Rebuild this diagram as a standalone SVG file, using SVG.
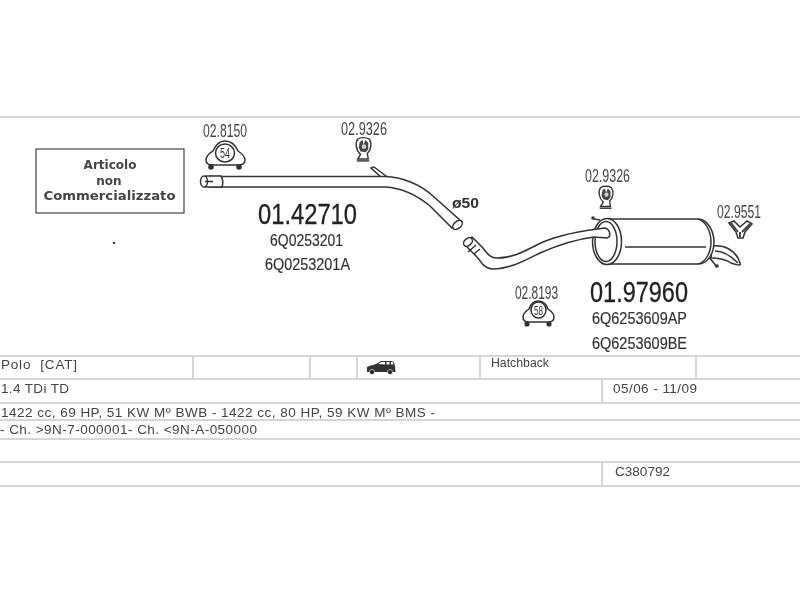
<svg xmlns="http://www.w3.org/2000/svg" width="800" height="600" viewBox="0 0 800 600">
<defs>
<filter id="soft" x="-5%" y="-5%" width="110%" height="110%"><feGaussianBlur stdDeviation="0.35"/></filter>
<symbol id="hanger" viewBox="0 0 20 27" overflow="visible">
<path d="M4 24 L7 19 C2 15 1 7 4 3 C7 1 13 1 16 3 C19 7 18 15 14 18 L15 24 Z" fill="#fff" stroke="#333" stroke-width="1.5"/>
<path d="M6 6 L9 4 L10 9 L12 4 L15 7 L15 14 L12 17 L7 16 L5 12 Z" fill="#444"/>
<circle cx="10.5" cy="11" r="2.4" fill="#ccc"/>
<path d="M3 26 L16 26" stroke="#333" stroke-width="1.5"/>
</symbol>
</defs>
<style>
text{font-family:"Liberation Sans",Arial,sans-serif;fill:#333}
.grid{stroke:#d6d6d6;stroke-width:2;fill:none}
.pipe{fill:#fff;stroke:#333;stroke-width:1.5}
.line{fill:none;stroke:#333;stroke-width:1.5}
.ref{font-size:19px;fill:#444}
.big{font-size:30px;fill:#222;stroke:#222;stroke-width:.3}
.oe{font-size:17px;stroke:#333;stroke-width:.2}
.tb{font-size:13.500px;fill:#444}
.box{font-family:"DejaVu Sans",sans-serif;font-size:12px;font-weight:bold;text-anchor:middle;fill:#444}
</style>
<rect width="800" height="600" fill="#fff"/>
<g id="table">
<path class="grid" d="M0 117H800M0 356H800M0 379H800M0 403H800M0 420H800M0 439H800M0 462H800M0 486H800"/>
<path class="grid" d="M193 356V379M310 356V379M357 356V379M480 356V379M696 356V379M602 379V403M602 462V486"/>
</g>
<g filter="url(#soft)">
<g id="note">
<rect x="36" y="149" width="148" height="64" fill="#fff" stroke="#444" stroke-width="1.2"/>
<text class="box" x="110" y="169">Articolo</text>
<text class="box" x="109" y="185">non</text>
<text class="box" x="109.500" y="200" textLength="132" lengthAdjust="spacingAndGlyphs">Commercializzato</text>
<circle cx="114" cy="243" r="1.2" fill="#333"/>
</g>
<g id="front-pipe">
<path class="pipe" d="M371 168 L374 167 L386 176 L382 178 Z"/>
<path class="pipe" d="M210 176.500 H385 C402 177 420 184 433 196 L462 222 L452 228 L430 206 C418 196 402 188 385 187 H210 Z"/>
<path class="pipe" d="M206 176 H221 Q224 181 222 187 H206 Z"/>
<ellipse class="pipe" cx="204" cy="181.500" rx="3.500" ry="5.500"/>
<path class="line" d="M205 181.500 H213"/>
<ellipse class="pipe" cx="457.500" cy="225" rx="5.500" ry="3.500" transform="rotate(-40 457.500 225)"/>
<text class="big" x="258" y="224" textLength="99" lengthAdjust="spacingAndGlyphs">01.42710</text>
<text class="oe" x="270" y="246" textLength="73" lengthAdjust="spacingAndGlyphs">6Q0253201</text>
<text class="oe" x="265" y="270" textLength="85" lengthAdjust="spacingAndGlyphs">6Q0253201A</text>
<text x="452" y="208" font-size="15" font-weight="bold" textLength="27" lengthAdjust="spacingAndGlyphs">ø50</text>
</g>
<g id="rear-muffler">
<path class="pipe" d="M712 246 C722 245 732 248 738 258 L740 263 C742 266 736 265 731 263 C725 259 718 258 711 258 Z"/>
<path class="line" d="M715 251 C724 251 733 258 738 263"/>
<path class="line" d="M708 256 L717 267"/>
<circle cx="717" cy="266" r="1.800" fill="#333"/>
<path class="pipe" d="M607 219 H698 C708 219 714 232 714 242 C714 253 708 264 698 264 H610 Z"/>
<path class="line" d="M698 219 C706 221 711 232 711 242 C711 252 706 262 698 264"/>
<path class="line" d="M625 247 H706"/>
<ellipse cx="607" cy="241.500" rx="14.500" ry="23" fill="#fff" stroke="#333" stroke-width="1.500"/>
<ellipse class="line" cx="606" cy="241.500" rx="11" ry="20"/>
<path class="line" d="M600 220 L594 219"/>
<circle cx="593" cy="218" r="1.800" fill="#333"/>
<path class="pipe" d="M472 237 L483 248 C488 255 491 258 497 258 C515 258 528 249 543 242 C560 235 578 231 605 228 C611 230 611 237 607 238 L594 237 C578 239 558 245 540 253 C524 261 510 269 492 269 C484 268 481 262 477 257 L465 245 Z"/>
<ellipse class="pipe" cx="468" cy="242" rx="5" ry="3.500" transform="rotate(-40 468 242)"/>
<path class="line" d="M476 245 L468 252 M480 249 L474 254"/>
<text class="big" x="590" y="302" textLength="98" lengthAdjust="spacingAndGlyphs">01.97960</text>
<text class="oe" x="592" y="324" textLength="95" lengthAdjust="spacingAndGlyphs">6Q6253609AP</text>
<text class="oe" x="592" y="349" textLength="95" lengthAdjust="spacingAndGlyphs">6Q6253609BE</text>
</g>
<g id="clamp-028150">
<text class="ref" x="203" y="137" textLength="44" lengthAdjust="spacingAndGlyphs">02.8150</text>
<path class="pipe" d="M206 160 C206 155 210 153 213 151 C216 144 220 141 225 141 C231 141 235 144 238 151 C241 153 245 156 245 160 C245 164 241 165 238 165 H213 C209 165 206 164 206 160 Z"/>
<ellipse class="pipe" cx="225" cy="153" rx="9.500" ry="9"/>
<circle cx="211" cy="167" r="2.800" fill="#333"/><circle cx="239" cy="167" r="2.800" fill="#333"/>
<text x="225" y="158" font-size="14" text-anchor="middle" textLength="10" lengthAdjust="spacingAndGlyphs">54</text>
</g>
<g id="clamp-029326-a">
<text class="ref" x="341" y="135" textLength="46" lengthAdjust="spacingAndGlyphs">02.9326</text>
<use href="#hanger" x="354" y="136" width="19" height="26"/>
</g>
<g id="clamp-029326-b">
<text class="ref" x="585" y="182" textLength="45" lengthAdjust="spacingAndGlyphs">02.9326</text>
<use href="#hanger" x="597" y="184" width="18" height="26"/>
</g>
<g id="clamp-028193">
<text class="ref" x="515" y="299" textLength="43" lengthAdjust="spacingAndGlyphs">02.8193</text>
<path class="pipe" d="M523 317 C523 313 526 311 529 309 C531 303 534 301 538 301 C543 301 546 303 548 309 C551 311 554 313 554 317 C554 321 551 322 548 322 H529 C526 322 523 321 523 317 Z"/>
<ellipse class="pipe" cx="538.500" cy="310" rx="7.500" ry="8"/>
<circle cx="527" cy="324" r="2.600" fill="#333"/><circle cx="549" cy="324" r="2.600" fill="#333"/>
<text x="538.500" y="315" font-size="13" text-anchor="middle" textLength="9" lengthAdjust="spacingAndGlyphs">58</text>
</g>
<g id="clamp-029551">
<text class="ref" x="717" y="218" textLength="44" lengthAdjust="spacingAndGlyphs">02.9551</text>
<path d="M729 223 L734 221 L740 227 L747 221 L752 224 L745 232 L743 238 L738 238 L736 232 Z" fill="#fff" stroke="#333" stroke-width="1.500"/>
<path d="M731 223 L738 232 M750 224 L742 232 M740 232 V237" stroke="#444" stroke-width="2" fill="none"/>
</g>
</g>
<g id="rows" filter="url(#soft)">
<text class="tb" x="1" y="369" textLength="76" lengthAdjust="spacing" xml:space="preserve">Polo  [CAT]</text>
<text class="tb" x="1" y="393" textLength="68" lengthAdjust="spacing">1.4 TDi TD</text>
<text class="tb" x="1" y="417" textLength="434" lengthAdjust="spacing">1422 cc, 69 HP, 51 KW  Mº BWB - 1422 cc, 80 HP, 59 KW  Mº BMS -</text>
<text class="tb" x="0" y="434" textLength="257" lengthAdjust="spacing">- Ch. &gt;9N-7-000001- Ch. &lt;9N-A-050000</text>
<text class="tb" x="491" y="367" textLength="58" lengthAdjust="spacingAndGlyphs">Hatchback</text>
<text class="tb" x="613" y="393" textLength="84" lengthAdjust="spacing">05/06 - 11/09</text>
<text class="tb" x="615" y="476" textLength="55" lengthAdjust="spacing">C380792</text>
<g id="car">
<path d="M367 372 V367 C371 365 374 365 376 364 L381 361 H392 C395 362 395 366 395.500 372 Z" fill="#333"/>
<path d="M378 364 L381.500 362 H385 V364.500 Z M386.500 362 H389.500 V364.500 H386.500 Z M391 362 H393 L393.500 364.500 H391 Z" fill="#fff"/>
<circle cx="372" cy="372" r="2.500" fill="#222" stroke="#fff" stroke-width=".6"/>
<circle cx="390" cy="372" r="2.500" fill="#222" stroke="#fff" stroke-width=".6"/>
</g>
</g>
</svg>
